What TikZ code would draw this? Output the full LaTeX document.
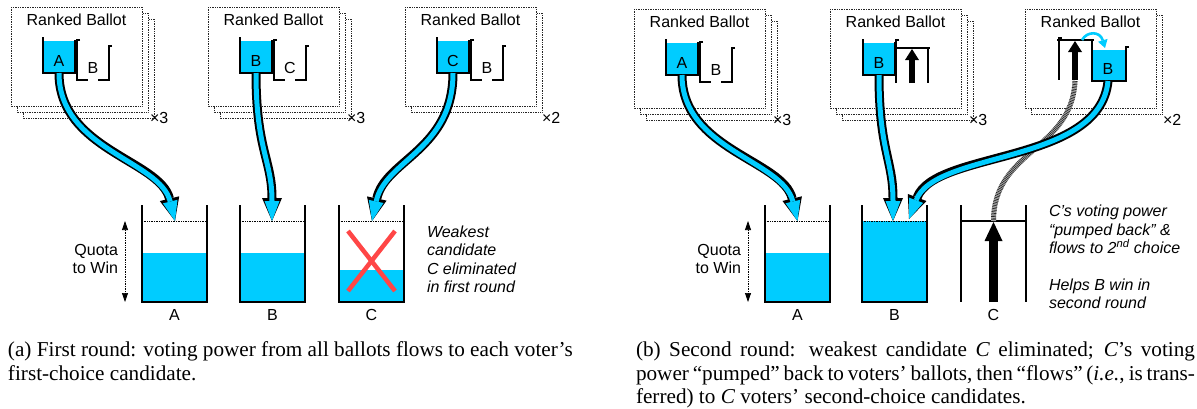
\documentclass[tikz,border=0pt]{standalone}
\usepackage{fontspec}
\setmainfont{Liberation Serif}
\setsansfont{Liberation Sans}
\usetikzlibrary{arrows.meta}
\definecolor{flow}{HTML}{00CCFF}
\definecolor{xred}{HTML}{FF4646}
\tikzset{
  every node/.style={inner sep=0pt, outer sep=0pt},
  sans/.style={font=\sffamily\fontsize{16}{18.4}\selectfont},
  isans/.style={font=\sffamily\itshape\fontsize{16}{18.4}\selectfont},
  capt/.style={font=\rmfamily\fontsize{21.2}{24}\selectfont},
  sheet/.style={draw=black!85, densely dotted, line width=0.7pt, fill=white},
  cupline/.style={line width=1.8pt, black},
  binwall/.style={line width=2.2pt, black},
  quotaline/.style={densely dotted, line width=0.7pt, black},
  pipeout/.style={line width=9pt, black, -{Triangle[length=23pt, width=20pt, line width'=0pt]}},
  pipein/.style={line width=5pt, flow, -{Triangle[length=20pt, width=15pt, line width'=0pt]}},
  hatchbase/.style={line width=5pt, black!25},
  hatchtop/.style={line width=5pt, black!85, dash pattern=on 0.7pt off 0.9pt},
  pumparrow/.style={line width=#1, black},
  quotaarrow/.style={quotaline, {Triangle[length=9pt,width=6pt]}-{Triangle[length=9pt,width=6pt]}},
  crossline/.style={line width=4.5pt, xred},
}
\newcommand{\ballotsheets}[5]{% X, Y, copies, x of label, name
  \ifnum#3>2 \draw[sheet] (#1+12,#2+12) rectangle (#1+143,#2+111);\fi
  \draw[sheet] (#1+6,#2+6) rectangle (#1+137,#2+105);
  \draw[sheet] (#1,#2) rectangle (#1+131,#2+99);
  \node[sans, anchor=base] (#5t) at (#1+65.5,#2+18.5) {Ranked Ballot};
  \node[sans, anchor=base west] (#5n) at (#4,#2+116) {×#3};
}
\newcommand{\fullcup}[4]{% X left wall, Y top of left wall, letter, name
  \fill[flow] (#1,#2+4) rectangle (#1+32,#2+36);
  \draw[cupline] (#1,#2) -- (#1,#2+37);
  \draw[cupline] (#1+32,#2+3) -- (#1+32,#2+37);
  \draw[cupline] (#1,#2+36) -- (#1+32,#2+36);
  \node[sans, anchor=base] (#4) at (#1+16,#2+29) {#3};
}
\newcommand{\emptycup}[4]{% X left wall, Y top of left wall, letter, name
  \draw[cupline] (#1+3,#2) -- (#1,#2) -- (#1,#2+41);
  \draw[cupline] (#1+35,#2+6) -- (#1+32,#2+6) -- (#1+32,#2+41);
  \draw[cupline] (#1,#2+40) -- (#1+11,#2+40);
  \draw[cupline] (#1+21,#2+40) -- (#1+32,#2+40);
  \node[sans, anchor=base] (#4) at (#1+16,#2+33) {#3};
}
\newcommand{\candbin}[4]{% left x, water level y, label, name
  \fill[flow] (#1,#2) rectangle (#1+65,302);
  \draw[quotaline] (#1,221) -- (#1+65,221);
  \draw[binwall] (#1,205) -- (#1,302) -- (#1+65,302) -- (#1+65,205);
  \node[sans, anchor=base] (#4) at (#1+32.5,320) {#3};
}
\begin{document}
\begin{tikzpicture}[x=1pt,y=-1pt]
\useasboundingbox (0,0) rectangle (1197,408);

% ================= panel (a) =================
\ballotsheets{11}{7}{3}{150}{sa1}
\ballotsheets{208}{7}{3}{347}{sa2}
\ballotsheets{405}{7}{2}{542}{sa3}
\fullcup{43}{37}{A}{ca1}
\emptycup{77}{40}{B}{ea1}
\fullcup{240}{37}{B}{ca2}
\emptycup{274}{40}{C}{ea2}
\fullcup{437}{37}{C}{ca3}
\emptycup{471}{40}{B}{ea3}

\candbin{142}{253}{A}{ba}
\candbin{240}{253}{B}{bb}
\candbin{339}{270}{C}{bc}
\draw[crossline] (348,231) -- (395,291);
\draw[crossline] (395,231) -- (348,291);

\coordinate (qa1) at (125,221);
\coordinate (qa2) at (125,302);
\draw[quotaarrow] (qa1) -- (qa2);
\node[sans, anchor=base east] (qta) at (118,255) {Quota};
\node[sans, anchor=base east] (qtb) at (118,273) {to Win};

\node[isans, anchor=base west] (wa1) at (427,237.3) {Weakest};
\node[isans, anchor=base west] (wa2) at (427,255.7) {candidate};
\node[isans, anchor=base west] (wa3) at (427,274.1) {C eliminated};
\node[isans, anchor=base west] (wa4) at (427,292.5) {in first round};

\coordinate (pa1) at (59,73);  \coordinate (ta1) at (175,221);
\coordinate (pa2) at (256,73); \coordinate (ta2) at (272,221);
\coordinate (pa3) at (453,73); \coordinate (ta3) at (372,221);
\draw[pipeout] (pa1) .. controls (59,150) and (160,160) .. (ta1);
\draw[pipein]  (pa1) .. controls (59,150) and (160,160) .. (ta1);
\draw[pipeout] (pa2) .. controls (256,150) and (272,160) .. (ta2);
\draw[pipein]  (pa2) .. controls (256,150) and (272,160) .. (ta2);
\draw[pipeout] (pa3) .. controls (453,150) and (385,160) .. (ta3);
\draw[pipein]  (pa3) .. controls (453,150) and (385,160) .. (ta3);

% ================= panel (b) =================
\ballotsheets{634}{9}{3}{773}{sb1}
\ballotsheets{830}{9}{3}{969}{sb2}
\ballotsheets{1025}{9}{2}{1163}{sb3}
\fullcup{666}{39}{A}{cb1}
\emptycup{700}{42}{B}{eb1}
\fullcup{863}{39}{B}{cb2}
% pump slot in ballot 2
\draw[cupline] (899,40) -- (896,40) -- (896,83);
\draw[cupline] (896,48) -- (930,48);
\draw[cupline] (928,48) -- (928,83);
\coordinate (pu2a) at (912,83); \coordinate (pu2b) at (912,49);
\draw[pumparrow=6pt, -{Triangle[length=11pt,width=14pt, line width'=0pt]}] (pu2a) -- (pu2b);
% ballot 3: pump slot then cup B
\draw[cupline] (1062,38) -- (1059,38) -- (1059,80);
\draw[cupline] (1057,40) -- (1094,40);
\fill[flow] (1092,50) rectangle (1126,81);
\draw[cupline] (1092,40) -- (1092,82);
\draw[cupline] (1129,47) -- (1126,47) -- (1126,82);
\draw[cupline] (1092,81) -- (1126,81);
\node[sans, anchor=base] (cb3) at (1108,74) {B};
\coordinate (pu3a) at (1075,80); \coordinate (pu3b) at (1075,41);
\draw[pumparrow=6pt, -{Triangle[length=11pt,width=14pt, line width'=0pt]}] (pu3a) -- (pu3b);
\coordinate (sw1) at (1082,40); \coordinate (sw2) at (1105,48);
\draw[line width=2.6pt, flow, -{Triangle[length=8pt,width=10pt, line width'=0pt]}] (sw1) .. controls (1087,31) and (1100,31) .. (sw2);

\candbin{765}{253}{A}{bba}
\candbin{862}{221}{B}{bbb}
% bin C: pump
\draw[binwall] (961,205) -- (961,302);
\draw[binwall] (1026,205) -- (1026,302);
\draw[binwall] (961,221) -- (1026,221);
\node[sans, anchor=base] (bbc) at (993.5,320) {C};

\coordinate (qb1) at (748,221);
\coordinate (qb2) at (748,302);
\draw[quotaarrow] (qb1) -- (qb2);
\node[sans, anchor=base east] (qtc) at (741,255) {Quota};
\node[sans, anchor=base east] (qtd) at (741,273) {to Win};

\node[isans, anchor=base west] (rb1) at (1049,216.7) {C’s voting power};
\node[isans, anchor=base west] (rb2) at (1049,235) {“pumped back” \&};
\node[isans, anchor=base west] (rb3) at (1049,253.3) {flows to 2\textsuperscript{nd} choice};
\node[isans, anchor=base west] (rb4) at (1049,290) {Helps B win in};
\node[isans, anchor=base west] (rb5) at (1049,308.3) {second round};

% hatched pumped-back pipe
\coordinate (hp1) at (1075,81); \coordinate (hp2) at (993.5,221);
\draw[hatchbase] (hp1) .. controls (1072,150) and (993.5,150) .. (hp2);
\draw[hatchtop]  (hp1) .. controls (1072,150) and (993.5,150) .. (hp2);
\coordinate (bpa) at (993.5,302); \coordinate (bpb) at (993.5,222);
\draw[pumparrow=9pt, -{Triangle[length=19pt,width=18pt, line width'=0pt]}] (bpa) -- (bpb);

\coordinate (pb1) at (682,75);   \coordinate (tb1) at (797.5,221);
\coordinate (pb2) at (879,75);   \coordinate (tb2) at (893,221);
\coordinate (pb3) at (1108,81);  \coordinate (tb3) at (909,219);
\draw[pipeout] (pb1) .. controls (682,150) and (783,160) .. (tb1);
\draw[pipein]  (pb1) .. controls (682,150) and (783,160) .. (tb1);
\draw[pipeout] (pb2) .. controls (879,150) and (893,160) .. (tb2);
\draw[pipein]  (pb2) .. controls (879,150) and (893,160) .. (tb2);
\draw[pipeout] (pb3) .. controls (1100,165) and (935,150) .. (tb3);
\draw[pipein]  (pb3) .. controls (1100,165) and (935,150) .. (tb3);

% ================= captions =================
\node[capt, anchor=base west] (capa1) at (8,356) {(a) First round: voting power from all ballots flows to each voter’s};
\node[capt, anchor=base west] (capa2) at (8,380) {first-choice candidate.};
\node[capt, anchor=base west] (capb1) at (636,356) {\makebox[559pt][s]{(b) Second round: weakest candidate \textit{C} eliminated; \textit{C}’s voting}};
\node[capt, anchor=base west] (capb2) at (636,380) {\makebox[559pt][s]{power “pumped” back to voters’ ballots, then “flows” (\textit{i.e.}, is trans-}};
\node[capt, anchor=base west] (capb3) at (636,403) {ferred) to \textit{C} voters’ second-choice candidates.};
\end{tikzpicture}
\end{document}
